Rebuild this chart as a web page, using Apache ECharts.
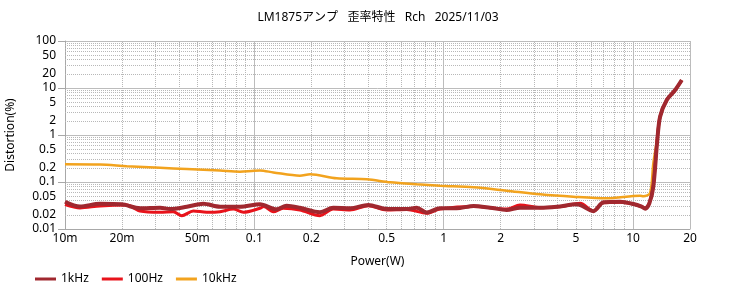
<!DOCTYPE html>
<html>
<head>
<meta charset="utf-8">
<script src="https://cdn.jsdelivr.net/npm/echarts@6/dist/echarts.min.js"></script>
<style>html,body{margin:0;padding:0;background:#fff;}#c{width:756px;height:298px;}</style>
</head>
<body>
<div id="c"></div>
<script>
// Power (W) and distortion (%) per series
var p1k = [0.010, 0.012, 0.0153, 0.0199, 0.0249, 0.0318, 0.0359, 0.044, 0.0538, 0.0659, 0.084, 0.107, 0.131, 0.148, 0.174, 0.222, 0.261, 0.320, 0.400, 0.500, 0.638, 0.721, 0.814, 0.957, 1.17, 1.44, 1.76, 2.15, 2.53, 3.23, 3.96, 5.05, 6.18, 6.98, 8.55, 10.05, 11.1, 11.6, 12.2, 12.8, 13.4, 13.9, 15.1, 16.7, 18.1];
var d1k = [0.038, 0.030, 0.0345, 0.0335, 0.0276, 0.0284, 0.0266, 0.0298, 0.0345, 0.0298, 0.0298, 0.0335, 0.0262, 0.0313, 0.0284, 0.0228, 0.0284, 0.0276, 0.0324, 0.0266, 0.0266, 0.0284, 0.0225, 0.0276, 0.0276, 0.0309, 0.0284, 0.0254, 0.0284, 0.0284, 0.0298, 0.0335, 0.024, 0.037, 0.038, 0.034, 0.0298, 0.027, 0.035, 0.079, 0.68, 2.45, 5.6, 9.1, 14.8];
var p100 = [0.010, 0.012, 0.0153, 0.0212, 0.0249, 0.0318, 0.0373, 0.0414, 0.0476, 0.056, 0.0659, 0.0774, 0.0875, 0.107, 0.112, 0.126, 0.142, 0.174, 0.222, 0.261, 0.320, 0.400, 0.500, 0.638, 0.814, 0.957, 1.44, 2.15, 2.53, 3.23, 4.2, 5.26, 6.18, 6.98, 8.55, 10.05, 11.1, 11.6, 12.2, 12.8, 13.4, 13.9, 15.1, 16.7, 18.1];
var d100 = [0.033, 0.028, 0.031, 0.0324, 0.0242, 0.0227, 0.0233, 0.0192, 0.0242, 0.0227, 0.0233, 0.0266, 0.0227, 0.0276, 0.030, 0.0233, 0.0276, 0.0254, 0.0192, 0.0266, 0.0254, 0.0313, 0.0254, 0.026, 0.0216, 0.0266, 0.030, 0.0266, 0.0324, 0.0284, 0.030, 0.0352, 0.024, 0.036, 0.037, 0.034, 0.030, 0.028, 0.036, 0.085, 0.75, 2.5, 5.6, 9.0, 14.5];
var p10k = [0.010, 0.0153, 0.0212, 0.0318, 0.044, 0.0659, 0.084, 0.0969, 0.107, 0.126, 0.174, 0.197, 0.272, 0.393, 0.521, 0.721, 0.957, 1.44, 2.15, 3.23, 4.83, 7.27, 10.9, 11.35, 12.3, 12.8, 13.4, 13.9, 15.1, 16.7, 18.1];
var d10k = [0.238, 0.235, 0.216, 0.20, 0.189, 0.175, 0.166, 0.172, 0.176, 0.160, 0.136, 0.146, 0.120, 0.114, 0.0986, 0.0893, 0.0834, 0.0771, 0.0653, 0.0547, 0.0486, 0.045, 0.0511, 0.050, 0.058, 0.25, 0.8, 2.4, 5.5, 9.0, 14.5];

// Tick labels
var yTickVals = [100, 50, 20, 10, 5, 2, 1, 0.5, 0.2, 0.1, 0.05, 0.02, 0.01];
var yTickText = ['100', '50', '20', '10', '5', '2', '1', '0.5', '0.2', '0.1', '0.05', '0.02', '0.01'];
var xTickVals = [0.01, 0.02, 0.05, 0.1, 0.2, 0.5, 1, 2, 5, 10, 20];
var xTickText = ['10m', '20m', '50m', '0.1', '0.2', '0.5', '1', '2', '5', '10', '20'];

var seriesNames = ['1kHz', '100Hz', '10kHz'];
var seriesColors = ['#a0282f', '#e8131b', '#f2a31e'];

function pairs(xs, ys) { return xs.map(function (x, i) { return [x, ys[i]]; }); }

var FONT = '"Noto Sans", "Noto Sans CJK JP", sans-serif';
var minorColor = '#b8b8b8';
var clear = 'rgba(255,255,255,0)';
var gridMarks = [];
[0.01, 0.1, 1].forEach(function (dec) {
  for (var m = 2; m <= 9; m++) {
    gridMarks.push({ xAxis: +(dec * m).toPrecision(3), lineStyle: { type: 'dotted', color: minorColor, width: 1 }, label: { show: false } });
  }
});
[0.01, 0.1, 1, 10].forEach(function (dec) {
  for (var m = 2; m <= 9; m++) {
    gridMarks.push({ yAxis: +(dec * m).toPrecision(3), lineStyle: { type: 'dotted', color: minorColor, width: 1 }, label: { show: false } });
  }
});
yTickVals.forEach(function (v, i) {
  gridMarks.push({ yAxis: v, lineStyle: { color: clear, width: 1 }, label: { show: true, position: 'start', distance: 9, formatter: yTickText[i], color: '#000', fontSize: 12, fontFamily: FONT } });
});
xTickVals.forEach(function (v, i) {
  gridMarks.push({ xAxis: v, lineStyle: { color: clear, width: 1 }, label: { show: true, position: 'start', distance: 4, formatter: xTickText[i], color: '#000', fontSize: 12, fontFamily: FONT } });
});

var chart = echarts.init(document.getElementById('c'), null, { renderer: 'canvas' });
chart.setOption({
  animation: false,
  backgroundColor: '#fff',
  textStyle: { fontFamily: FONT },
  title: {
    text: 'LM1875アンプ   歪率特性   Rch   2025/11/03',
    left: 'center', top: 7,
    textStyle: { fontSize: 12, fontWeight: 'normal', color: '#000', fontFamily: FONT }
  },
  legend: {
    data: seriesNames,
    left: 30, top: 268,
    icon: 'rect', itemWidth: 21, itemHeight: 3, itemGap: 13,
    textStyle: { fontSize: 12, color: '#000', fontFamily: FONT }
  },
  grid: { left: 65, right: 66, top: 41, bottom: 69, containLabel: false, outerBoundsMode: 'none' },
  xAxis: {
    type: 'log', logBase: 10, min: 0.01, max: 20,
    name: 'Power(W)', nameLocation: 'middle', nameGap: 27,
    nameTextStyle: { fontSize: 12, color: '#000', fontFamily: FONT },
    axisLine: { show: true, lineStyle: { color: '#a8a8a8' } },
    axisTick: { show: false },
    axisLabel: { show: false },
    splitLine: { show: true, lineStyle: { color: '#bcbcbc', width: 1 } }
  },
  yAxis: {
    type: 'log', logBase: 10, min: 0.01, max: 100,
    name: 'Distortion(%)', nameLocation: 'middle', nameGap: 48,
    nameTextStyle: { fontSize: 12, color: '#000', fontFamily: FONT },
    axisLine: { show: true, lineStyle: { color: '#a8a8a8' } },
    axisTick: { show: true, length: 7, lineStyle: { color: '#a8a8a8' } },
    axisLabel: { show: false },
    splitLine: { show: true, lineStyle: { color: '#bcbcbc', width: 1 } }
  },
  series: [
    {
      name: 'grid', type: 'line', data: [], silent: true,
      markLine: { silent: true, z: 1, symbol: ['none', 'none'], animation: false, data: gridMarks }
    },
    {
      name: seriesNames[0], type: 'line', z: 5, data: pairs(p1k, d1k),
      showSymbol: false, smooth: 0.3, color: seriesColors[0],
      lineStyle: { width: 4, color: seriesColors[0] }
    },
    {
      name: seriesNames[1], type: 'line', z: 4, data: pairs(p100, d100),
      showSymbol: false, smooth: 0.3, color: seriesColors[1],
      lineStyle: { width: 3, color: seriesColors[1] }
    },
    {
      name: seriesNames[2], type: 'line', z: 3, data: pairs(p10k, d10k),
      showSymbol: false, smooth: 0.3, color: seriesColors[2],
      lineStyle: { width: 2.5, color: seriesColors[2] }
    }
  ]
});
</script>
</body>
</html>
